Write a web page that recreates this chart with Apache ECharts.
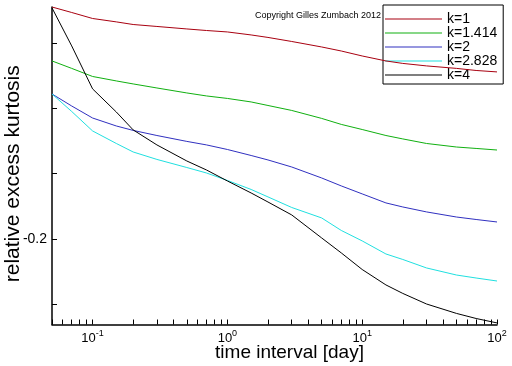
<!DOCTYPE html>
<html>
<head>
<meta charset="utf-8">
<script src="https://cdn.jsdelivr.net/npm/echarts@6/dist/echarts.min.js"></script>
<style>html,body{margin:0;padding:0;background:#fff}#c{width:512px;height:366px}</style>
</head>
<body>
<div id="c"></div>
<script>
// time interval [day]
const tGrid = [0.05, 0.07, 0.1, 0.15, 0.2, 0.3, 0.5, 0.7, 1, 1.5, 2, 3, 5, 7, 10, 15, 20, 30, 50, 70, 100];
const seriesNames = ['k=1', 'k=1.414', 'k=2', 'k=2.828', 'k=4'];
const k1    = [-0.0224, -0.0266, -0.0312, -0.0338, -0.0358, -0.0373, -0.0392, -0.0404, -0.0415, -0.0438, -0.0457, -0.0488, -0.0530, -0.0561, -0.0599, -0.0637, -0.0656, -0.0675, -0.0694, -0.0710, -0.0721];
const k1414 = [-0.0637, -0.0694, -0.0756, -0.0790, -0.0813, -0.0844, -0.0882, -0.0905, -0.0924, -0.0951, -0.0978, -0.1016, -0.1077, -0.1123, -0.1162, -0.1208, -0.1234, -0.1269, -0.1296, -0.1307, -0.1319];
const k2    = [-0.0890, -0.0982, -0.1074, -0.1135, -0.1169, -0.1208, -0.1253, -0.1280, -0.1315, -0.1361, -0.1395, -0.1449, -0.1533, -0.1594, -0.1655, -0.1724, -0.1755, -0.1793, -0.1832, -0.1851, -0.1870];
const k2828 = [-0.0890, -0.1024, -0.1173, -0.1269, -0.1334, -0.1391, -0.1453, -0.1495, -0.1552, -0.1621, -0.1678, -0.1759, -0.1839, -0.1935, -0.2015, -0.2115, -0.2157, -0.2222, -0.2276, -0.2299, -0.2322];
const k4    = [-0.0231, -0.0522, -0.0851, -0.1028, -0.1165, -0.1280, -0.1403, -0.1472, -0.1556, -0.1648, -0.1717, -0.1816, -0.1992, -0.2107, -0.2234, -0.2352, -0.2417, -0.2498, -0.2570, -0.2609, -0.2643];
const seriesValues = [k1, k1414, k2, k2828, k4];
const seriesColors = ['#a80010', '#10b010', '#3030c0', '#20e0e0', '#000000'];

// axis ticks / labels
const xLabelValues = [0.1, 1, 10, 100];
const xMinorMult = [1, 2, 3, 4, 5, 6, 7, 8, 9];
const xTickValues = [];
[0.01, 0.1, 1, 10, 100].forEach(d => xMinorMult.forEach(m => {
  const v = +(d * m).toPrecision(3);
  if (v >= 0.05 && v <= 100) xTickValues.push(v);
}));
const yTickValues = [-0.25, -0.2, -0.15, -0.1, -0.05];
const yLabelValues = [-0.2];
const xRange = [0.05, 100];
const yRange = [-0.2655, -0.0224];

const FONT = 'Liberation Sans, Arial, sans-serif';
const chart = echarts.init(document.getElementById('c'), null, {renderer: 'canvas'});
chart.setOption({
  animation: false,
  backgroundColor: '#fff',
  grid: {left: 52, right: 15, top: 7, bottom: 41.5, containLabel: false, outerBoundsMode: 'none'},
  xAxis: {
    type: 'log', logBase: 10, min: xRange[0], max: xRange[1],
    name: 'time interval [day]', nameLocation: 'middle', nameGap: 19, nameMoveOverlap: false,
    nameTextStyle: {fontSize: 19, color: '#000', fontFamily: FONT, padding: [0, 0, 0, 30]},
    axisLine: {show: true, onZero: false, lineStyle: {color: '#000', width: 1.5}},
    axisTick: {show: true, inside: true, length: 5, lineStyle: {color: '#000', width: 1}, customValues: xTickValues},
    minorTick: {show: false},
    splitLine: {show: false},
    axisLabel: {
      customValues: xLabelValues, margin: 5, color: '#000', fontFamily: FONT,
      formatter: v => '{a|10}{s|' + Math.round(Math.log10(v)) + '}',
      rich: {
        a: {fontSize: 13, lineHeight: 15, verticalAlign: 'bottom', fontFamily: FONT, color: '#000'},
        s: {fontSize: 9, lineHeight: 9, verticalAlign: 'top', fontFamily: FONT, color: '#000'}
      }
    }
  },
  yAxis: {
    type: 'value', min: yRange[0], max: yRange[1],
    name: 'relative excess kurtosis', nameLocation: 'middle', nameGap: 28, nameRotate: 90, nameMoveOverlap: false,
    nameTextStyle: {fontSize: 21, color: '#000', fontFamily: FONT, padding: [0, 16, 0, 0]},
    axisLine: {show: true, onZero: false, lineStyle: {color: '#000', width: 1.5}},
    axisTick: {show: true, inside: true, length: 5, lineStyle: {color: '#000', width: 1}, customValues: yTickValues},
    splitLine: {show: false},
    axisLabel: {customValues: yLabelValues, margin: 5, fontSize: 14, color: '#000', fontFamily: FONT}
  },
  legend: {
    data: seriesNames,
    orient: 'vertical', left: 383, top: 5,
    padding: [7, 6, 2, 2], itemGap: 0, itemWidth: 57, itemHeight: 1, icon: 'rect',
    borderColor: '#000', borderWidth: 1, backgroundColor: 'transparent',
    selectedMode: false,
    textStyle: {fontSize: 14, lineHeight: 13, color: '#000', fontFamily: FONT}
  },
  graphic: [{
    type: 'text', left: 255, top: 11,
    style: {text: 'Copyright Gilles Zumbach 2012', fontSize: 9, fontFamily: FONT, fill: '#000'}
  }],
  series: seriesNames.map((name, i) => ({
    name, type: 'line', showSymbol: false, symbol: 'none', z: 5,
    data: tGrid.map((t, j) => [t, seriesValues[i][j]]),
    lineStyle: {color: seriesColors[i], width: 1},
    itemStyle: {color: seriesColors[i]},
    emphasis: {disabled: true}
  }))
});
</script>
</body>
</html>
